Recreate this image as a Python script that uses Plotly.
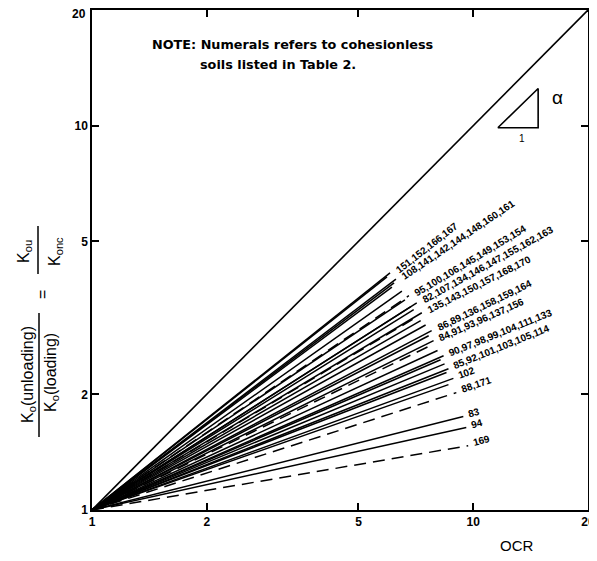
import numpy as np
import plotly.graph_objects as go

# ---- data ----
tick_vals = [1, 2, 5, 10, 20]
x_tick_text = ["1", "2", "5", "10", "20"]
y_tick_text = ["1", "2", "5", "10", ""]   # the top "20" is drawn as text below

group_labels = [
    "151,152,166,167",
    "108,141,142,144,148,160,161",
    "95,100,106,145,149,153,154",
    "82,107,134,146,147,155,162,163",
    "135,143,150,157,168,170",
    "86,89,136,158,159,164",
    "84,91,93,96,137,156",
    "90,97,98,99,104,111,133",
    "85,92,101,103,105,114",
    "102",
    "88,171",
    "83",
    "94",
    "169",
]
label_angles = [-38, -34, -31, -29, -27, -26, -24, -22, -22, -20, -19, -15, -15, -15]

# end points of each unloading line (OCR, Kou/Konc); all start at (1, 1)
line_group = [0, 0, 1, 1, 1, 2, 2, 2, 3, 3, 3, 4, 4, 4, 5, 5, 5, 6, 6,
              7, 7, 7, 8, 8, 8, 9, 9, 10, 11, 12, 13]
line_ocr = [6.05, 5.94, 6.27, 6.20, 6.12, 6.78, 6.50, 6.62, 7.11, 6.86, 6.98,
            7.33, 7.11, 7.28, 7.78, 7.50, 7.64, 7.87, 7.73, 8.36, 8.06, 8.21,
            8.61, 8.41, 8.51, 8.87, 8.61, 9.03, 9.42, 9.59, 9.70]
line_ratio = [4.14, 4.04, 3.99, 3.90, 3.80, 3.61, 3.71, 3.52, 3.46, 3.38, 3.32,
              3.26, 3.18, 3.11, 2.93, 3.03, 2.84, 2.76, 2.68, 2.52, 2.60, 2.46,
              2.33, 2.40, 2.28, 2.20, 2.12, 2.02, 1.75, 1.64, 1.47]
line_dashed = [0, 0, 0, 0, 0, 1, 0, 0, 0, 0, 0, 0, 1, 0, 0, 0, 0, 0, 1,
               0, 0, 0, 0, 0, 0, 0, 0, 1, 0, 0, 1]
# index of the line in each group that leads to its label
label_line = [0, 2, 5, 8, 11, 14, 17, 19, 22, 25, 27, 28, 29, 30]

diag_x = [1, 20]
diag_y = [1, 20]
tri_x = [11.6, 14.8, 14.8, 11.6]
tri_y = [9.88, 9.88, 12.5, 9.88]

FONT = "Liberation Sans"

fig = go.Figure()
fig.add_trace(go.Scatter(x=diag_x, y=diag_y, mode="lines",
                         line=dict(color="black", width=1.6), hoverinfo="skip"))
for i in range(len(line_ocr)):
    fig.add_trace(go.Scatter(
        x=[1, line_ocr[i]], y=[1, line_ratio[i]], mode="lines",
        line=dict(color="black", width=1.5,
                  dash="12px,7px" if line_dashed[i] else "solid"),
        hoverinfo="skip"))
fig.add_trace(go.Scatter(x=tri_x, y=tri_y, mode="lines",
                         line=dict(color="black", width=1.6), hoverinfo="skip"))

ann = []
for g, lab in enumerate(group_labels):
    k = label_line[g]
    ann.append(dict(x=np.log10(line_ocr[k]), y=np.log10(line_ratio[k]),
                    xref="x", yref="y", text=lab, showarrow=False,
                    textangle=label_angles[g], xanchor="left", yanchor="bottom",
                    xshift=1, yshift=-5,
                    font=dict(family=FONT, size=10, color="black", weight="bold")))

# page pixel -> paper coords (plot area spans page x 92..588, y 10..510)
PX0, PX1, PY0, PY1 = 92, 588, 10, 510
def px_to_paper(px, py):
    return (px - PX0) / (PX1 - PX0), (PY1 - py) / (PY1 - PY0)

def add_text(text, px, py, size, angle=0, weight="normal", xanchor="center",
             family=FONT):
    xp, yp = px_to_paper(px, py)
    ann.append(dict(x=xp, y=yp, xref="paper", yref="paper", text=text,
                    showarrow=False, textangle=angle, xanchor=xanchor,
                    yanchor="middle",
                    font=dict(family=family, size=size, color="black", weight=weight)))

add_text("NOTE: Numerals refers to cohesionless", 150, 45, 12.8, weight="bold",
         xanchor="left", family="DejaVu Sans")
add_text("soils listed in Table 2.", 198, 65, 12.8, weight="bold", xanchor="left",
         family="DejaVu Sans")
add_text("α", 557, 97, 19)
add_text("1", 522, 138, 10)
add_text("OCR", 517, 545, 15)
add_text("20", 88, 14, 12, weight="bold", xanchor="right")

add_text("K<sub>o</sub>(unloading)", 28, 375, 16, angle=-90)
add_text("K<sub>o</sub>(loading)", 51, 373, 16, angle=-90)
add_text("=", 42, 295, 16, angle=-90)
add_text("K<sub>ou</sub>", 24, 252, 16, angle=-90)
add_text("K<sub>onc</sub>", 55, 252, 16, angle=-90)

shapes = []
for (bx, by0, by1) in [(39, 313, 437), (38, 226, 274)]:
    x0, y0 = px_to_paper(bx, by0)
    _, y1 = px_to_paper(bx, by1)
    shapes.append(dict(type="line", xref="paper", yref="paper",
                       x0=x0, x1=x0, y0=y0, y1=y1,
                       line=dict(color="black", width=1.5)))

def axis(ticktext):
    return dict(type="log", tickvals=tick_vals, ticktext=ticktext,
                ticks="inside", ticklen=7, tickwidth=1.5, tickcolor="black",
                showline=True, linecolor="black", linewidth=1.5,
                mirror="ticks", showgrid=False, zeroline=False,
                range=[0, np.log10(20)], automargin=False,
                ticklabeloverflow="allow",
                tickfont=dict(family=FONT, size=12, color="black", weight="bold"))

# figure placed at page offset (8, 8) by the default body margin;
# sized so the page does not overflow the 597x561 window
W, H = 581, 545
fig.update_layout(
    width=W, height=H,
    margin=dict(l=PX0 - 8, r=W - (PX1 - 8), t=PY0 - 8, b=H - (PY1 - 8),
                autoexpand=False),
    paper_bgcolor="white", plot_bgcolor="white",
    showlegend=False,
    xaxis=axis(x_tick_text),
    yaxis=axis(y_tick_text),
    annotations=ann,
    shapes=shapes,
)

fig.write_html("out.html")
